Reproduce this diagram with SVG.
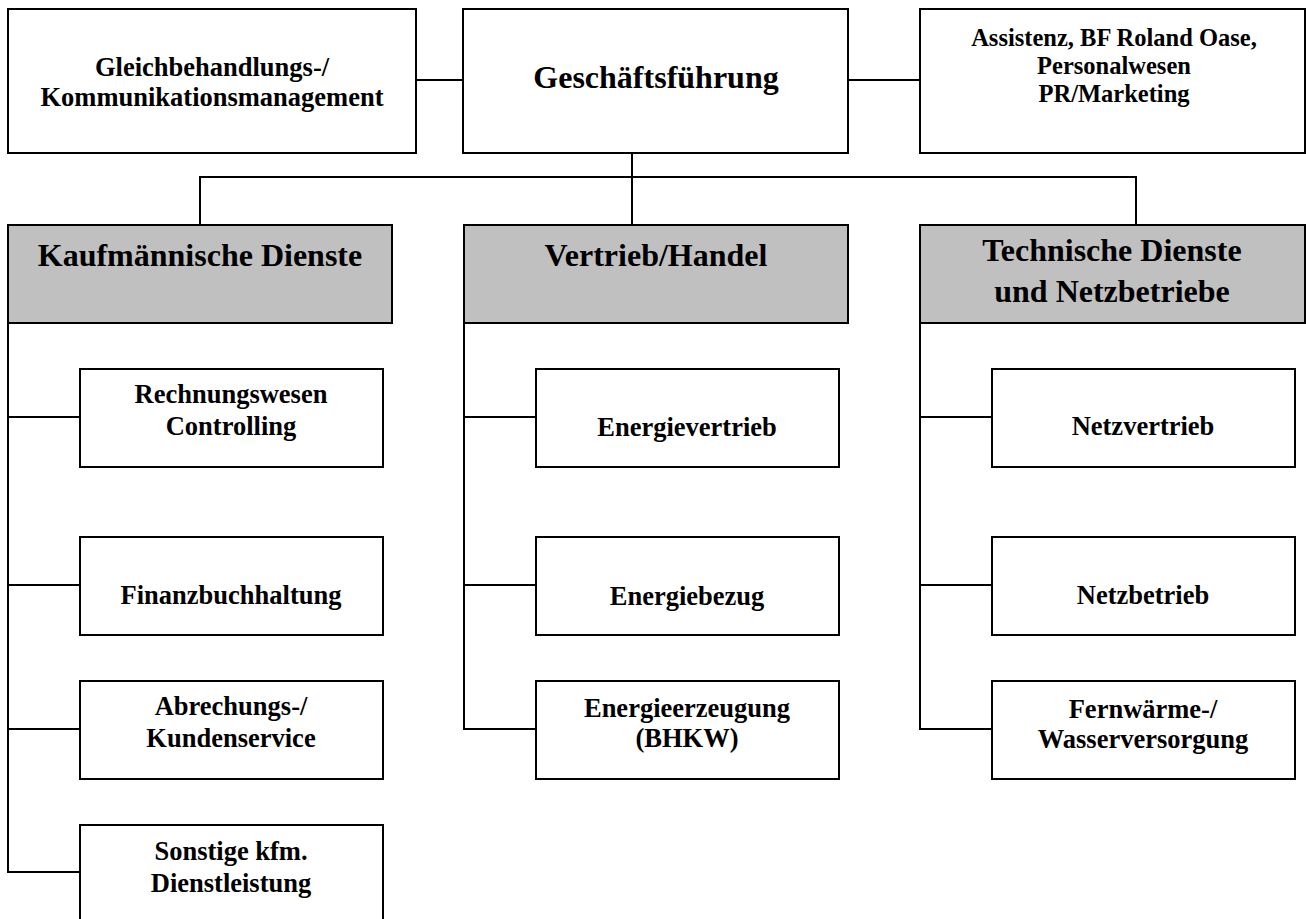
<svg xmlns="http://www.w3.org/2000/svg" width="1306" height="919" viewBox="0 0 1306 919">
<style>
.box{fill:#ffffff;stroke:#000000;stroke-width:2}
.head{fill:#c0c0c0;stroke:#000000;stroke-width:2}
.ln{fill:none;stroke:#000000;stroke-width:2}
text{font-family:"Liberation Serif","Times New Roman",serif;font-weight:bold;fill:#000000;text-anchor:middle}
.big{font-size:32px}
.sm{font-size:26.5px}
.xs{font-size:24.5px}
</style>
<rect width="1306" height="919" fill="#ffffff"/>
<g id="connectors">
<path class="ln" d="M416 80H463M848 80H920"/>
<path class="ln" d="M632 153V225M200 225V177H1136V225"/>
<path class="ln" d="M8 323V872H80M8 417H80M8 585H80M8 729H80"/>
<path class="ln" d="M464 323V729H536M464 417H536M464 585H536"/>
<path class="ln" d="M920 323V729H992M920 417H992M920 585H992"/>
</g>
<g id="n-gleich"><rect class="box" x="8" y="9" width="408" height="144"/><text class="sm" x="212" y="76">Gleichbehandlungs-/</text><text class="sm" x="212" y="106">Kommunikationsmanagement</text></g>
<g id="n-gf"><rect class="box" x="463" y="9" width="385" height="144"/><text class="big" x="656" y="88">Geschäftsführung</text></g>
<g id="n-assist"><rect class="box" x="920" y="9" width="385" height="144"/><text class="xs" x="1114" y="46">Assistenz, BF Roland Oase,</text><text class="xs" x="1114" y="74">Personalwesen</text><text class="xs" x="1114" y="102">PR/Marketing</text></g>
<g id="n-kauf"><rect class="head" x="8" y="225" width="384" height="98"/><text class="big" x="200" y="266">Kaufmännische Dienste</text></g>
<g id="n-vertrieb"><rect class="head" x="464" y="225" width="384" height="98"/><text class="big" x="656" y="266">Vertrieb/Handel</text></g>
<g id="n-tech"><rect class="head" x="920" y="225" width="385" height="98"/><text class="big" x="1112" y="261">Technische Dienste</text><text class="big" x="1112" y="302">und Netzbetriebe</text></g>
<g id="n-rw"><rect class="box" x="80" y="369" width="303" height="98"/><text class="sm" x="231" y="403">Rechnungswesen</text><text class="sm" x="231" y="435">Controlling</text></g>
<g id="n-fibu"><rect class="box" x="80" y="537" width="303" height="98"/><text class="sm" x="231" y="604">Finanzbuchhaltung</text></g>
<g id="n-abr"><rect class="box" x="80" y="681" width="303" height="98"/><text class="sm" x="231" y="715">Abrechungs-/</text><text class="sm" x="231" y="747">Kundenservice</text></g>
<g id="n-sonst"><rect class="box" x="80" y="825" width="303" height="98"/><text class="sm" x="231" y="860">Sonstige kfm.</text><text class="sm" x="231" y="892">Dienstleistung</text></g>
<g id="n-ev"><rect class="box" x="536" y="369" width="303" height="98"/><text class="sm" x="687" y="436">Energievertrieb</text></g>
<g id="n-eb"><rect class="box" x="536" y="537" width="303" height="98"/><text class="sm" x="687" y="605">Energiebezug</text></g>
<g id="n-ee"><rect class="box" x="536" y="681" width="303" height="98"/><text class="sm" x="687" y="717">Energieerzeugung</text><text class="sm" x="687" y="747">(BHKW)</text></g>
<g id="n-nv"><rect class="box" x="992" y="369" width="303" height="98"/><text class="sm" x="1143" y="435">Netzvertrieb</text></g>
<g id="n-nb"><rect class="box" x="992" y="537" width="303" height="98"/><text class="sm" x="1143" y="604">Netzbetrieb</text></g>
<g id="n-fw"><rect class="box" x="992" y="681" width="303" height="98"/><text class="sm" x="1143" y="718">Fernwärme-/</text><text class="sm" x="1143" y="748">Wasserversorgung</text></g>
</svg>
